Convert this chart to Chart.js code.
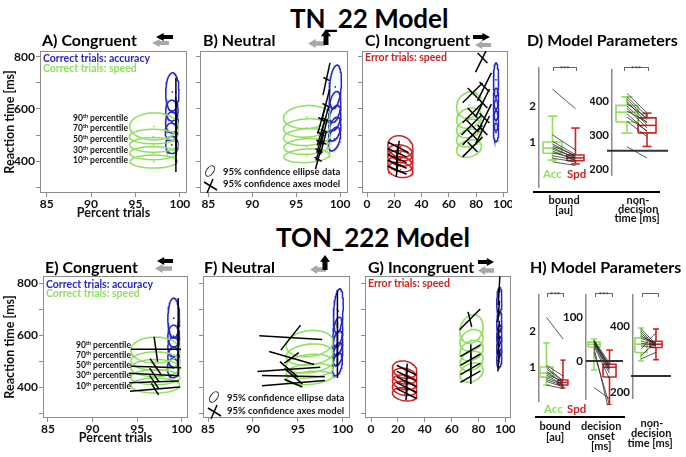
<!DOCTYPE html>
<html><head><meta charset="utf-8">
<script src="https://cdn.jsdelivr.net/npm/chart.js@4"></script>
<style>
html,body{margin:0;padding:0;background:#fff;}
#root{position:relative;width:686px;height:457px;overflow:hidden;font-family:Lato,sans-serif;font-weight:700;background:#fff;}
.t{position:absolute;white-space:nowrap;line-height:1;}
canvas{position:absolute;}
svg{position:absolute;overflow:visible;}
</style></head><body><div id="root"></div>
<script>
// ---------------- DATA ----------------
const rtTicks = [300, 400, 500, 600, 700, 800];
const rtLabeled = [400, 600, 800];
const pctTicks = [85, 90, 95, 100];
const errTicks = [0, 20, 40, 60, 80, 100];
const percentiles = ['90', '70', '50', '30', '10'];

// ellipses: [meanPercent, meanRT, radiusPercent, radiusRT, tilt]
const A_acc_ell = [[99.15,665,0.75,74,3],[99.1,594,0.7,40,0],[99.1,548,0.72,40,0],[99.05,512,0.7,34,0],[99.1,462,0.7,33,0]];
const A_spd_ell = [[97.1,533,2.75,52,0],[97.0,494,2.7,28,0],[97.05,462,2.7,28,0],[97.0,430,2.65,25,0],[97.05,398,2.65,25,0]];
// model axes: [cx, cy, axis1 dx, axis1 dy, axis2 dx, axis2 dy]
const A_model = [[99.55,395,0,37,0.06,0],[99.55,428,0,32,0.06,0],[99.55,458,0,32,0.06,0],[99.55,492,0,35,0.06,0],[99.55,540,0,40,0.06,0],
                 [99.55,470,0,40,0.06,0],[99.55,510,0,42,0.06,0],[99.55,550,0,45,0.06,0],[99.55,596,0,48,0.06,0],[99.55,665,0,55,0.06,0]];

const B_acc_ell = [[99.45,685,0.7,80,25],[99.4,608,0.7,56,20],[99.4,565,0.7,45,18],[99.4,523,0.7,42,18],[99.35,485,0.7,42,18]];
const B_spd_ell = [[96.2,569,2.65,44,4],[96.2,527,2.65,35,4],[96.2,492,2.65,32,4],[96.2,456,2.6,30,4],[96.2,420,2.6,26,4]];
const B_model = [[97.5,407,0.3,38,0.4,-8],[97.6,440,0.35,38,0.4,-8],[97.7,472,0.35,40,0.4,-8],[97.8,505,0.4,45,0.4,-8],[97.9,560,0.45,55,0.4,-8],
                 [98.1,470,0.35,45,0.35,-6],[98.2,515,0.35,48,0.35,-6],[98.3,560,0.4,50,0.35,-6],[98.35,615,0.45,60,0.35,-6],[98.45,715,0.4,62,0.35,-6]];

const C_err_ell = [[24.5,455,9.2,42,-6],[24.5,432,9.2,30,-6],[24.5,410,9.2,29,-6],[24.5,388,9.2,29,-6],[24.5,366,9.2,29,-6]];
const C_spd_ell = [[74.8,448,9.1,33,8],[74.8,488,9.1,33,8],[74.8,525,9.1,35,8],[74.8,565,9.1,38,8],[74.8,615,9.1,50,8]];
const C_acc_ell = [[94.6,712,1.9,65,0],[94.6,640,1.9,40,0],[94.6,596,1.9,38,0],[94.6,555,1.9,38,0],[94.6,510,1.9,35,0]];
const C_model = [[22,365,7,-16,0.6,26],[22,388,7,-16,0.6,26],[22,410,7,-16,0.6,26],[22,432,7,-16,0.6,26],[23,452,7.5,-20,0.6,26],
                 [77.4,454,7.3,38,3.6,-19],[77.4,500,7.3,38,3.6,-19],[76.6,538,7.3,38,3.6,-19],[77.4,585,7.3,38,3.6,-19],[77.4,662,7.3,38,3.6,-19],
                 [84.7,519,5.1,54,3.6,-19],[86.1,565,5.1,54,3.6,-19],[84.7,623,5.1,54,3.6,-19],[86.1,685,5.1,54,3.6,-19],[84.7,796,5.1,54,3.6,-19]];

const E_acc_ell = [[99.1,665,0.66,77,0],[99.1,596,0.66,42,0],[99.1,554,0.66,38,0],[99.1,515,0.66,38,0],[99.05,473,0.66,37,0]];
const E_spd_ell = [[97.05,542,2.75,50,0],[97.05,500,2.75,35,0],[97.05,473,2.75,33,0],[97.05,438,2.75,29,0],[97.05,406,2.75,29,0]];
const E_model = [[99.6,480,0,35,0.05,0],[99.6,520,0,38,0.05,0],[99.6,560,0,40,0.05,0],[99.6,605,0,45,0.05,0],[99.6,680,0,62,0.05,0],
                 [97.1,545,2.8,0,0.2,-48],[97.1,477,2.8,-3,0.65,-32],[96.9,448,2.8,-5,0.5,-25],[96.9,420,2.8,3,0.5,-25],[97.0,392,2.8,8,0.4,-22]];

const F_acc_ell = [[99.5,692,0.55,82,25],[99.45,611,0.55,55,18],[99.45,569,0.55,45,15],[99.45,527,0.55,42,15],[99.4,488,0.55,42,15]];
const F_spd_ell = [[96.3,567,2.6,50,8],[96.3,525,2.6,40,8],[96.3,490,2.6,35,8],[96.3,462,2.6,27,8],[96.3,435,2.6,25,8]];
const F_model = [[99.4,480,0,45,0.05,0],[99.4,520,0,40,0.05,0],[99.4,560,0,40,0.05,0],[99.4,605,0,45,0.05,0],[99.4,700,0,73,0.08,0],
                 [94.2,590,3.5,-7,1.1,48],[94.3,512,2.5,-25,0.8,20],[94.0,468,3.5,8,1.0,-30],[94.5,442,3.5,-2,1.0,-30],[94.5,415,3.5,10,1.0,-15]];

const G_err_ell = [[25,467,9.1,33,-6],[25,442,9.1,30,-6],[25,418,9.1,28,-6],[25,395,9.1,27,-6],[25,372,9.1,25,-6]];
const G_spd_ell = [[74.8,456,8.6,36,10],[74.8,500,8.6,36,10],[74.8,540,8.6,38,10],[74.8,580,8.6,40,10],[74.8,623,8.6,54,10]];
const G_acc_ell = [[95.5,730,1.9,52,8],[95.5,650,1.9,40,6],[95.5,600,1.9,38,6],[95.5,555,1.9,38,6],[95.5,510,1.9,35,6]];
const G_model = [[26.5,375,7.4,-19,0.5,25],[26.5,398,7.4,-19,0.5,25],[26.5,420,7.4,-19,0.5,25],[26.5,442,7.4,-19,0.5,25],[26.5,465,7.4,-19,0.5,25],
                 [74,440,7.5,22,0.3,25],[74,470,7.5,22,0.3,25],[74,505,7.5,22,0.3,25],[74,540,7.5,22,0.3,25],[73.6,660,7.7,40,1.35,-29],
                 [95,500,0.6,40,0.8,-5],[95,560,0.6,35,0.8,-5],[95,620,0.6,35,0.8,-5],[95,690,0.6,40,0.8,-5],[95.3,770,0.6,55,0.8,-5]];

// model parameters (per subject: accuracy vs speed), box stats [min,q1,median,q3,max]
const D_bound_acc = [2.47, 1.2, 1.02, 0.95, 0.9, 0.85, 0.8, 0.75, 0.7, 0.62, 0.55, 0.45];
const D_bound_spd = [1.93, 0.78, 0.65, 0.6, 0.62, 0.55, 0.58, 0.5, 0.55, 0.5, 0.45, 0.35];
const D_bound_boxAcc = [0.5, 0.69, 0.83, 1.0, 1.72];
const D_bound_boxSpd = [0.39, 0.48, 0.56, 0.64, 1.39];
const D_ndt_acc = [422, 412, 405, 398, 392, 385, 378, 370, 362, 352, 340, 265];
const D_ndt_spd = [365, 355, 345, 335, 350, 330, 320, 338, 310, 312, 295, 232];
const D_ndt_boxAcc = [305, 338, 367, 387, 412];
const D_ndt_boxSpd = [266, 306, 328, 350, 364];
const D_ndt_base = 253;

const H_bound_acc = [2.38, 1.05, 1.0, 0.95, 0.88, 0.82, 0.78, 0.7, 0.65, 0.6, 0.5];
const H_bound_spd = [1.78, 0.75, 0.62, 0.6, 0.55, 0.58, 0.5, 0.52, 0.48, 0.45, 0.4];
const H_bound_boxAcc = [0.5, 0.72, 0.83, 1.0, 1.67];
const H_bound_boxSpd = [0.42, 0.5, 0.57, 0.64, 1.19];
const H_onset_acc = [48, 46, 45, 44, 42, 40, 38, 35, 30, 20, -60];
const H_onset_spd = [-5, -10, -12, -15, -18, -22, -28, -40, -118, -100, -85];
const H_onset_boxAcc = [-20, 32, 38, 43, 50];
const H_onset_boxSpd = [-100, -36, -14, -7, 25];
const H_onset_base = 0;
const H_ndt_acc = [392, 385, 378, 370, 362, 355, 348, 340, 330, 310, 300];
const H_ndt_spd = [345, 340, 338, 345, 350, 342, 340, 335, 380, 352, 320];
const H_ndt_boxAcc = [294, 320, 345, 364, 394];
const H_ndt_boxSpd = [298, 335, 345, 354, 391];
const H_ndt_base = 249;

// ---------------- STYLE / HELPERS ----------------
const GREEN = '#8fdf5c', BLUE = '#2626c8', RED = '#cc2424', FRAME = '#8c8c8c', GREYARROW = '#a8a8a8';
Chart.defaults.font.family = 'Lato, sans-serif';
Chart.defaults.font.weight = 'bold';
Chart.defaults.color = '#111';
Chart.defaults.animation = false;

const root = document.getElementById('root');

function text(str, x, base, size, color, align, html) {
  const d = document.createElement('div');
  d.className = 't';
  d.style.fontSize = size + 'px';
  d.style.color = color || '#111';
  d.innerHTML = (html ? str : str.replace(/&/g,'&amp;').replace(/</g,'&lt;')) +
    '<span style="display:inline-block;width:0;height:0;vertical-align:baseline"></span>';
  root.appendChild(d);
  const mk = d.lastChild;
  const b = mk.offsetTop;
  const w = d.offsetWidth;
  let l = x;
  if (align === 'center') l = x - w / 2; else if (align === 'right') l = x - w;
  d.style.left = l + 'px';
  d.style.top = (base - b) + 'px';
  return d;
}

function svgEl(x, y, w, h, inner) {
  const ns = 'http://www.w3.org/2000/svg';
  const s = document.createElementNS(ns, 'svg');
  s.setAttribute('width', w); s.setAttribute('height', h);
  s.style.left = x + 'px'; s.style.top = y + 'px';
  s.innerHTML = inner;
  root.appendChild(s);
}
function arrow(x, y, w, h, dir, color) {
  let pts;
  if (dir === 'left') pts = [[0,h/2],[0.45*w,0],[0.45*w,0.25*h],[w,0.25*h],[w,0.75*h],[0.45*w,0.75*h],[0.45*w,h]];
  else if (dir === 'right') pts = [[w,h/2],[0.55*w,0],[0.55*w,0.25*h],[0,0.25*h],[0,0.75*h],[0.55*w,0.75*h],[0.55*w,h]];
  else pts = [[w/2,0],[w,0.45*h],[0.75*w,0.45*h],[0.75*w,h],[0.25*w,h],[0.25*w,0.45*h],[0,0.45*h]];
  svgEl(x, y, w, h, `<polygon points="${pts.map(p=>p.join(',')).join(' ')}" fill="${color}"/>`);
}
function hline(x, y, w, h, color) {
  const d = document.createElement('div');
  d.style.cssText = `position:absolute;left:${x}px;top:${y}px;width:${w}px;height:${h}px;background:${color};`;
  root.appendChild(d);
}
function bracket(x1, x2, y, stars) {
  const d = document.createElement('div');
  d.style.cssText = `position:absolute;left:${x1}px;top:${y}px;width:${x2-x1}px;height:3px;border:1px solid #666;border-bottom:none;`;
  root.appendChild(d);
  if (stars) text('***', (x1 + x2) / 2 + 0.5, y + 5, 8, '#444', 'center');
}

const framePlugin = {
  id: 'frame',
  beforeDatasetsDraw(ch, a, o) {
    if (!o.on) return;
    const { left, top, right, bottom } = ch.chartArea;
    const c = ch.ctx; c.save(); c.strokeStyle = FRAME; c.lineWidth = 1;
    c.strokeRect(Math.round(left) + 0.5, Math.round(top) + 0.5, Math.round(right - left) - 1, Math.round(bottom - top) - 1);
    c.restore();
  }
};

function linScale(axis, range, ticksArr, cb, o) {
  o = o || {};
  return {
    type: 'linear', position: axis === 'x' ? 'bottom' : 'left',
    min: range[0], max: range[1],
    afterBuildTicks: s => { s.ticks = ticksArr.map(v => ({ value: v })); },
    ticks: { display: o.noTicks ? false : true, autoSkip: false, maxRotation: 0, minRotation: 0, font: { size: o.tickSize || 11.5, weight: 'bold' }, color: '#111', padding: o.tickPad != null ? o.tickPad : 1, callback: cb },
    grid: { display: o.grid !== false, drawOnChartArea: false, drawTicks: o.grid !== false, tickLength: 4, color: FRAME, lineWidth: 1 },
    border: { display: !!o.border, color: o.borderColor || FRAME, width: o.borderWidth || 1 },
    title: o.title ? { display: true, text: o.title, font: { size: 12, weight: 'bold' }, color: '#111', padding: o.titlePad || { top: 0, bottom: 4 } } : { display: false }
  };
}

function mkChart(box, area, datasets, xs, ys, frame) {
  const c = document.createElement('canvas');
  c.width = box.w; c.height = box.h;
  c.style.left = box.l + 'px'; c.style.top = box.t + 'px';
  c.style.width = box.w + 'px'; c.style.height = box.h + 'px';
  root.appendChild(c);
  const yW = area.l - box.l, xH = box.t + box.h - area.b;
  xs.afterFit = s => { s.height = xH; s.paddingLeft = 0; s.paddingRight = 0; };
  ys.afterFit = s => { s.width = yW; s.paddingTop = 0; s.paddingBottom = 0; };
  return new Chart(c, {
    type: 'scatter',
    data: { datasets },
    options: {
      responsive: false, maintainAspectRatio: false, devicePixelRatio: 1, animation: false,
      layout: { padding: { top: area.t - box.t, right: box.l + box.w - area.r, left: 0, bottom: 0 } },
      scales: { x: xs, y: ys },
      plugins: { legend: { display: false }, tooltip: { enabled: false }, frame: { on: !!frame } },
      events: []
    },
    plugins: [framePlugin]
  });
}

function ellipsePts(r) {
  const [cx, cy, rx, ry, sk] = r; const p = [];
  for (let i = 0; i <= 72; i++) { const t = i * Math.PI / 36; p.push({ x: cx + rx * Math.cos(t), y: cy + ry * Math.sin(t) + sk * Math.cos(t) }); }
  return p;
}
function lineDs(pts, color, width, order, clip) {
  return { data: pts, borderColor: color, backgroundColor: color, borderWidth: width, showLine: true, pointRadius: 0, tension: 0, order: order, clip: clip === false ? false : undefined };
}
function ellipseSets(rows, color) {
  const out = rows.map(r => lineDs(ellipsePts(r), color, 1.5, 2));
  out.push({ data: rows.map(r => ({ x: r[0], y: r[1] })), showLine: false, pointRadius: 0.9, borderWidth: 0, backgroundColor: color, order: 2 });
  return out;
}
function modelSets(rows) {
  const out = [];
  rows.forEach(r => {
    const [cx, cy, ax, ay, bx, by] = r;
    out.push(lineDs([{ x: cx - ax, y: cy - ay }, { x: cx + ax, y: cy + ay }], '#000', 1.5, 1));
    out.push(lineDs([{ x: cx - bx, y: cy - by }, { x: cx + bx, y: cy + by }], '#000', 1.5, 1));
  });
  return out;
}
const rtCb = v => rtLabeled.includes(v) ? v : '';
const noLab = () => '';

function scatterPanel(box, area, xr, xt, yr, isLeft, xTitle, groups, model) {
  let ds = [];
  groups.forEach(g => { ds = ds.concat(ellipseSets(g[0], g[1])); });
  ds = ds.concat(modelSets(model));
  const xs = linScale('x', xr, xt, v => v, { title: xTitle, tickPad: 0, tickSize: 12 });
  const ys = linScale('y', yr, rtTicks, isLeft ? rtCb : noLab, { title: isLeft ? 'Reaction time [ms]' : null, tickPad: 1, tickSize: 12, titlePad: { top: 2, bottom: 0 } });
  if (isLeft) ys.title.font = { size: 12.5, weight: 'bold' };
  if (xTitle) xs.title.font = { size: 12.5, weight: 'bold' };
  mkChart(box, area, ds, xs, ys, true);
}

function boxSets(stats, xc, hw, color) {
  const [mn, q1, md, q3, mx] = stats;
  return [
    [{ x: xc - hw, y: q1 }, { x: xc + hw, y: q1 }, { x: xc + hw, y: q3 }, { x: xc - hw, y: q3 }, { x: xc - hw, y: q1 }],
    [{ x: xc - hw, y: md }, { x: xc + hw, y: md }],
    [{ x: xc, y: q3 }, { x: xc, y: mx }], [{ x: xc, y: q1 }, { x: xc, y: mn }],
    [{ x: xc - hw / 2, y: mx }, { x: xc + hw / 2, y: mx }], [{ x: xc - hw / 2, y: mn }, { x: xc + hw / 2, y: mn }]
  ].map(p => lineDs(p, color, 1.6, 2, false));
}
function paramPanel(box, area, xr, yr, yt, accV, spdV, boxAcc, boxSpd, hwA, hwS, base) {
  let ds = accV.map((a, i) => lineDs([{ x: 1, y: a }, { x: 2, y: spdV[i] }], '#222', 0.75, 1, false));
  ds = ds.concat(boxSets(boxAcc, 1, hwA, GREEN), boxSets(boxSpd, 2, hwS, RED));
  if (base) ds.push(lineDs([{ x: base[0], y: base[2] }, { x: base[1], y: base[2] }], '#333', 2, 0, false));
  const xs = linScale('x', xr, [1, 2], noLab, { grid: false, noTicks: true });
  const ys = linScale('y', yr, yt, v => v, { grid: false, border: true, borderColor: '#8a8a8a', borderWidth: 1.5, tickPad: 3, tickSize: 11.5 });
  mkChart(box, area, ds, xs, ys, false);
}

// ---------------- BUILD ----------------
// top row
scatterPanel({ l: 0, t: 44, w: 192, h: 180 }, { l: 40, t: 51, r: 187, b: 193 }, [84.25, 100.8], pctTicks, [277, 823], true, 'Percent trials',
  [[A_spd_ell, GREEN], [A_acc_ell, BLUE]], A_model);
scatterPanel({ l: 190, t: 44, w: 162, h: 166 }, { l: 200, t: 51, r: 348, b: 193 }, [84.05, 100.9], pctTicks, [277, 823], false, null,
  [[B_spd_ell, GREEN], [B_acc_ell, BLUE]], B_model);
scatterPanel({ l: 352, t: 44, w: 160, h: 166 }, { l: 362, t: 51, r: 508, b: 193 }, [-3.7, 103.4], errTicks, [277, 823], false, null,
  [[C_err_ell, RED], [C_spd_ell, GREEN], [C_acc_ell, BLUE]], C_model);
// bottom row
scatterPanel({ l: 0, t: 270, w: 193, h: 179 }, { l: 43, t: 276, r: 188, b: 418 }, [84.45, 100.7], pctTicks, [281, 827], true, 'Percent trials',
  [[E_spd_ell, GREEN], [E_acc_ell, BLUE]], E_model);
scatterPanel({ l: 193, t: 270, w: 162, h: 166 }, { l: 203, t: 276, r: 350, b: 418 }, [84.44, 100.8], pctTicks, [281, 827], false, null,
  [[F_spd_ell, GREEN], [F_acc_ell, BLUE]], F_model);
scatterPanel({ l: 355, t: 270, w: 160, h: 166 }, { l: 365, t: 276, r: 511, b: 418 }, [-4.5, 104.2], errTicks, [281, 827], false, null,
  [[G_err_ell, RED], [G_spd_ell, GREEN], [G_acc_ell, BLUE]], G_model);

// parameter panels
paramPanel({ l: 515, t: 60, w: 82, h: 130 }, { l: 539, t: 68, r: 595, b: 187 }, [0.413, 2.85], [-0.25, 3.06], [1, 2],
  D_bound_acc, D_bound_spd, D_bound_boxAcc, D_bound_boxSpd, 0.41, 0.37, null);
paramPanel({ l: 590, t: 60, w: 82, h: 120 }, { l: 612, t: 70, r: 670, b: 175 }, [0.25, 3.15], [182, 491], [200, 300, 400],
  D_ndt_acc, D_ndt_spd, D_ndt_boxAcc, D_ndt_boxSpd, 0.55, 0.45, [-0.0, 3.05, D_ndt_base]);
paramPanel({ l: 515, t: 287, w: 62, h: 118 }, { l: 539, t: 295, r: 575, b: 401 }, [0.545, 2.73], [0.056, 3.0], [1, 2],
  H_bound_acc, H_bound_spd, H_bound_boxAcc, H_bound_boxSpd, 0.4, 0.3, null);
paramPanel({ l: 560, t: 287, w: 65, h: 118 }, { l: 586, t: 295, r: 623, b: 399 }, [0.484, 2.87], [-86, 150], [0, 100],
  H_onset_acc, H_onset_spd, H_onset_boxAcc, H_onset_boxSpd, 0.39, 0.42, [0.484, 2.87, H_onset_base]);
paramPanel({ l: 608, t: 287, w: 70, h: 118 }, { l: 633, t: 295, r: 672, b: 398 }, [0.467, 3.07], [182, 494], [200, 400],
  H_ndt_acc, H_ndt_spd, H_ndt_boxAcc, H_ndt_boxSpd, 0.4, 0.4, [0.33, 3.0, H_ndt_base]);

// ---------------- TEXT / DECORATION ----------------
text('TN_22 Model', 369, 28, 26, '#000', 'center');
text('TON_222 Model', 373, 247, 26, '#000', 'center');

text('A) Congruent', 42, 46, 16, '#000');
text('B) Neutral', 203, 46, 16, '#000');
text('C) Incongruent', 365, 46, 16, '#000');
text('D) Model Parameters', 527, 46, 16, '#000');
text('E) Congruent', 45, 273, 16, '#000');
text('F) Neutral', 204, 273, 16, '#000');
text('G) Incongruent', 368, 273, 16, '#000');
text('H) Model Parameters', 530, 273, 16, '#000');

text('Correct trials: accuracy', 43, 62, 10.5, BLUE);
text('Correct trials: speed', 43, 72, 10.5, GREEN);
text('Correct trials: accuracy', 46, 288, 10.5, BLUE);
text('Correct trials: speed', 46, 297, 10.5, GREEN);
text('Error trials: speed', 365, 61, 10.5, RED);
text('Error trials: speed', 368, 287, 10.5, RED);

const pctBaseTop = [121, 131, 142, 153, 163];
const pctBaseBot = [348, 358, 368, 378, 389];
percentiles.forEach((p, i) => {
  const h = p + '<sup style="font-size:5.5px;vertical-align:3px">th</sup> percentile';
  text(h, 128, pctBaseTop[i], 8.5, '#111', 'right', true);
  text(h, 131, pctBaseBot[i], 8.5, '#111', 'right', true);
});

// legend for data/model markers
function legendIcons(x, y) {
  svgEl(x, y, 16, 14, '<ellipse cx="7" cy="6" rx="3.5" ry="6" transform="rotate(35 7 6)" fill="none" stroke="#222" stroke-width="1"/>');
  svgEl(x + 1, y + 13, 16, 16, '<line x1="3" y1="15" x2="9" y2="1" stroke="#000" stroke-width="1.5"/><line x1="0" y1="4" x2="13" y2="12" stroke="#000" stroke-width="1.5"/>');
}
legendIcons(203, 165);
text('95% confidence ellipse data', 223, 175, 9.5, '#111');
text('95% confidence axes model', 223, 187, 9.5, '#111');
legendIcons(207, 391);
text('95% confidence ellipse data', 227, 401, 9.5, '#111');
text('95% confidence axes model', 227, 414, 9.5, '#111');

// direction arrows
arrow(152, 39, 17, 8, 'left', GREYARROW); arrow(156, 33, 17, 8, 'left', '#000');
arrow(308, 39, 17, 9, 'left', GREYARROW); arrow(321, 29, 10, 16, 'up', '#000');
arrow(475, 41, 16, 8, 'left', GREYARROW); arrow(473, 33, 17, 8, 'right', '#000');
arrow(155, 264, 17, 9, 'left', GREYARROW); arrow(157, 257, 16, 8, 'left', '#000');
arrow(310, 265, 16, 9, 'left', GREYARROW); arrow(320, 255, 10, 15, 'up', '#000');
arrow(478, 266, 16, 9, 'left', GREYARROW); arrow(478, 258, 16, 8, 'right', '#000');

// parameter panel labels
text('Acc', 543, 178, 11.5, GREEN); text('Spd', 567, 178, 11.5, RED);
text('Acc', 544, 413, 11.5, GREEN); text('Spd', 567, 413, 11.5, RED);
hline(533, 191, 127, 2, '#000');
hline(535, 416, 90, 2, '#000');
text('bound', 564, 204, 11, '#111', 'center'); text('[au]', 564, 214, 11, '#111', 'center');
text('non-', 638, 204, 11, '#111', 'center'); text('decision', 638, 213, 11, '#111', 'center'); text('time [ms]', 637, 222, 11, '#111', 'center');
text('bound', 555, 430, 11, '#111', 'center'); text('[au]', 555, 441, 11, '#111', 'center');
text('decision', 601, 430, 11, '#111', 'center'); text('onset', 601, 440, 11, '#111', 'center'); text('[ms]', 601, 450, 11, '#111', 'center');
text('non-', 652, 427, 11, '#111', 'center'); text('decision', 651, 437, 11, '#111', 'center'); text('time [ms]', 650, 447, 11, '#111', 'center');
bracket(553, 575, 67, true); bracket(624, 647, 67, true);
bracket(547, 562, 293, true); bracket(595, 611, 293, true); bracket(642, 657, 293, false);
</script></body></html>
